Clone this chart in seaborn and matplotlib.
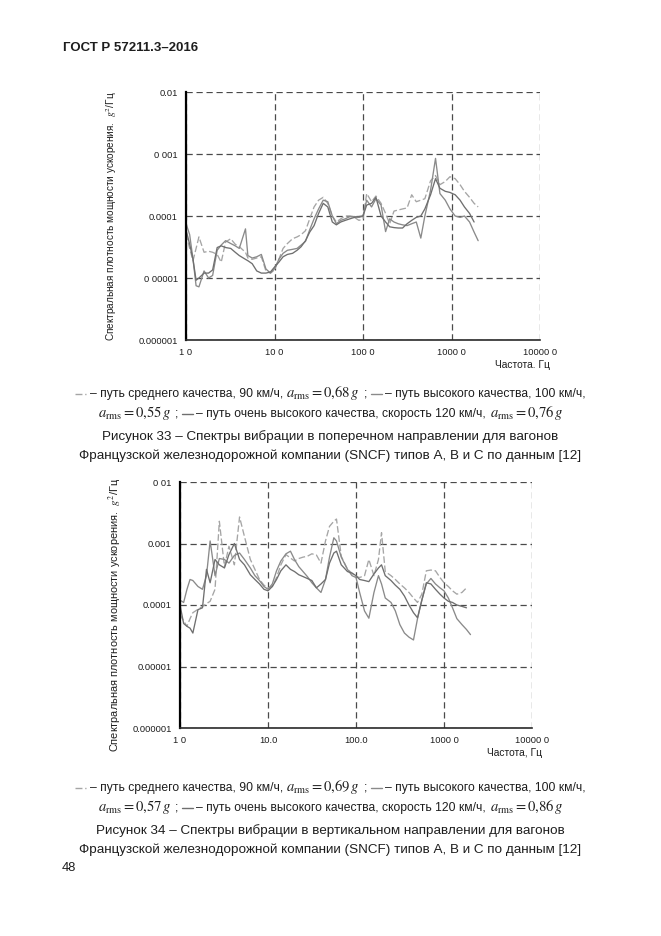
import numpy as np
import pandas as pd
import matplotlib.pyplot as plt
import seaborn as sns
from matplotlib.lines import Line2D
from matplotlib.ticker import NullFormatter

sns.set_style('white')
plt.rcParams['font.family'] = ['Liberation Sans', 'DejaVu Sans']
plt.rcParams['mathtext.fontset'] = 'stix'

INK = '#1e1e1e'
UNIT = 1e-5   # all PSD values below are in units of 1e-5 g^2/Hz

# ── Figure 33: lateral direction ───────────────────────────
freq_lat = [1.0, 1.1, 1.2, 1.3, 1.4, 1.6, 1.8, 2.0, 2.25, 2.5,
            2.8, 3.2, 3.6, 4.0, 4.7, 5.0, 5.6, 6.3, 7.1, 8.0,
            9.0, 10, 11.2, 12.5, 14, 16, 18, 20, 22.4, 25,
            28, 31.5, 35.5, 40, 45, 50, 56, 63, 71, 80,
            90, 100, 110, 125, 140, 160, 180, 200, 224, 250,
            280, 315, 355, 400, 450, 500, 580, 660, 740, 850,
            960, 1100, 1250, 1400, 1600, 1800, 2000]
lat_medium = [5.2, 3.0, 1.9, 3.0, 4.6, 2.6, 2.7, 2.6, 2.4, 1.8,
              3.8, 4.3, 3.5, 3.2, 2.6, 2.1, 2.0, 2.1, 2.2, 1.3,
              1.2, 1.35, 2.0, 3.0, 3.6, 4.3, 4.6, 5.0, 5.8, 9,
              14, 18, 20, 16, 10, 8, 9, 10, 10, 9.5,
              8.5, 9, 23, 17, 21, 16, 11, 7.5, 12, 12.5,
              13, 13.5, 22, 17, 18, 19, 37, 45, 32, 36,
              43, 40, 32, 25, 20, 16, 14]
lat_high = [7.6, 5.0, 2.0, 0.75, 0.72, 1.3, 1.0, 1.1, 2.8, 3.4,
            4.0, 3.6, 3.3, 3.0, 6.2, 2.3, 2.1, 2.2, 2.4, 1.4,
            1.2, 1.4, 2.0, 2.5, 2.8, 2.9, 3.0, 3.4, 3.9, 6.0,
            9.0, 13, 18, 17, 10, 7.5, 8.5, 9.0, 9.8, 9.8,
            9.5, 10, 18, 14, 19, 15, 5.6, 9, 8, 7.5,
            7.2, 7.0, 7.5, 8, 4.4, 10, 26, 85, 23, 18,
            13, 10, 9.5, 10, 8, 5.5, 4.0]
lat_vhigh = [6.0, 3.5, 2.0, 0.92, 1.0, 1.2, 1.2, 1.35, 3.1, 3.3,
             3.1, 3.0, 2.6, 2.3, 2.0, 1.9, 1.7, 1.3, 1.2, 1.2,
             1.25, 1.5, 1.8, 2.2, 2.4, 2.5, 2.8, 3.2, 4.0, 5.5,
             7.0, 11, 16, 14, 8, 7.2, 8, 8.5, 9, 9.5,
             9.8, 10, 15, 16, 20, 10, 8, 6.7, 6.5, 6.4,
             6.4, 7.5, 8.5, 9.5, 10, 13, 22, 40, 28, 25,
             24, 22, 18, 14, 11, 8.0, np.nan]

# ── Figure 34: vertical direction ──────────────────────────
freq_vert = [1.0, 1.1, 1.2, 1.3, 1.4, 1.6, 1.8, 2.0, 2.2, 2.5,
             2.8, 3.2, 3.6, 4.15, 4.75, 5.4, 6.3, 7.1, 8.0, 9.0,
             10, 11.2, 12.5, 14, 16, 18, 20, 22.4, 25, 28,
             31.5, 35.5, 40, 45, 50, 56, 60, 68, 80, 90,
             100, 110, 125, 140, 160, 180, 195, 215, 250, 280,
             315, 355, 400, 450, 500, 560, 630, 710, 800, 900,
             1000, 1120, 1250, 1400, 1600, 1800, 2000]
vert_medium = [7.0, 5.5, 4.5, 6.0, 7.5, 8.5, 9.5, 10.5, 11.5, 18,
               230, 42, 90, 45, 270, 130, 55, 38, 26, 21,
               19, 20, 28, 45, 66, 58, 52, 57, 60, 62,
               68, 65, 48, 110, 190, 230, 250, 62, 38, 33,
               29, 28, 30, 55, 30, 55, 150, 35, 30, 26,
               22, 19, 16, 13, 11, 15, 36, 37, 36, 28,
               23, 20, 17, 15, 16, 19, np.nan]
vert_high = [12, 11, 18, 26, 25, 20, 18, 30, 110, 30,
             57, 55, 48, 64, 70, 55, 40, 30, 25, 20,
             18, 22, 36, 52, 68, 75, 55, 42, 35, 29,
             23, 19, 16, 26, 60, 124, 110, 60, 38, 30,
             28, 16, 8, 6.1, 16, 30, 22, 13, 11, 8,
             4.8, 3.5, 3.0, 2.7, 6, 12, 22, 27, 22, 19,
             17, 13, 9, 6, 4.8, 4.0, 3.3]
vert_vhigh = [10, 5.0, 4.5, 4.2, 3.5, 8.4, 9.0, 38, 23, 55,
              45, 40, 66, 100, 55, 45, 31, 26, 22, 18,
              17, 20, 26, 36, 45, 38, 35, 31, 29, 27,
              25, 19, 22, 26, 48, 70, 75, 45, 35, 33,
              30, 26, 25, 24, 32, 40, 45, 30, 25, 21,
              18, 14, 10, 7.5, 6.2, 12, 23, 22, 18, 15,
              13, 11.5, 11, 10, 9.5, 9.0, np.nan]

# ── Axis ticks (as printed in the scan) ────────────────────
x_ticks = [1, 10, 100, 1000, 10000]
y_ticks = [1e-6, 1e-5, 1e-4, 1e-3, 1e-2]
x_labels_lat = ['1 0', '10 0', '100 0', '1000 0', '10000 0']
y_labels_lat = ['0.000001', '0 00001', '0.0001', '0 001', '0.01']
x_labels_vert = ['1 0', '10.0', '100.0', '1000 0', '10000 0']
y_labels_vert = ['0.000001', '0.00001', '0.0001', '0.001', '0 01']

styles = {
    'medium': dict(color='#a5a5a5', ls=(0, (5, 2))),
    'high':   dict(color='#8a8a8a', ls='-'),
    'vhigh':  dict(color='#6f6f6f', ls='-'),
}

W, H = 661, 936
fig = plt.figure(figsize=(W / 100, H / 100), dpi=100)


def px_axes(left, top, right, bottom):
    return fig.add_axes([left / W, 1 - bottom / H, (right - left) / W, (bottom - top) / H])


def draw_chart(ax, freq, series, xlabels, ylabels, xlab, ylab_pos, ylab_size):
    for key, vals in series:
        st = styles[key]
        sns.lineplot(x=freq, y=np.array(vals) * UNIT, ax=ax, color=st['color'],
                     linestyle=st['ls'], lw=0.95, estimator=None, errorbar=None, sort=False)
    ax.set_xscale('log')
    ax.set_yscale('log')
    ax.set_xlim(1, 10000)
    ax.set_ylim(1e-6, 1e-2)
    ax.set_xticks(x_ticks, xlabels)
    ax.set_yticks(y_ticks, ylabels)
    ax.xaxis.set_minor_formatter(NullFormatter())
    ax.yaxis.set_minor_formatter(NullFormatter())
    ax.grid(True, which='major', color='#4a4a4a', linestyle=(0, (5, 3)), linewidth=0.9)
    ax.tick_params(which='major', length=0, labelsize=6.7, colors=INK, pad=6)
    ax.tick_params(which='minor', direction='in', length=3, width=0.6, color='#333333')
    for s in ['top', 'right']:
        ax.spines[s].set_visible(False)
    ax.spines['left'].set_color('black')
    ax.spines['left'].set_linewidth(1.6)
    ax.spines['bottom'].set_color('#2a2a2a')
    ax.spines['bottom'].set_linewidth(1.2)
    ax.set_xlabel(xlab, fontsize=7.4, color=INK)
    ax.xaxis.set_label_coords(0.95, -0.08)
    ax.set_ylabel('Спектральная плотность мощности ускорения.  $g^2$/Гц', fontsize=ylab_size, color=INK)
    ax.yaxis.set_label_coords(*ylab_pos)


ax1 = px_axes(186, 92, 540, 340)
draw_chart(ax1, freq_lat, [('medium', lat_medium), ('high', lat_high), ('vhigh', lat_vhigh)],
           x_labels_lat, y_labels_lat, 'Частота. Гц', (-0.19, 0.5), 7.2)

ax2 = px_axes(180, 482, 532, 728)
draw_chart(ax2, freq_vert, [('medium', vert_medium), ('high', vert_high), ('vhigh', vert_vhigh)],
           x_labels_vert, y_labels_vert, 'Частота, Гц', (-0.16, 0.46), 7.9)

# ── Captions ───────────────────────────────────────────────
TXT_SIZE = 8.7
MATH_SIZE = 10.5
FIG_SIZE = 9.7


def caption_line(y_px, parts):
    r = fig.canvas.get_renderer()
    items = []
    for kind, val in parts:
        if kind == 'sample':
            items.append((kind, val, 11.0))
        else:
            size = {'txt': TXT_SIZE, 'math': MATH_SIZE, 'fig': FIG_SIZE}[kind]
            t = fig.text(0, 0, val, fontsize=size, color=INK, va='baseline', ha='left')
            items.append((kind, t, t.get_window_extent(r).width))
    gap = 3.5
    total = sum(w for _, _, w in items) + gap * (len(items) - 1)
    x = (W - total) / 2
    for kind, val, w in items:
        if kind == 'sample':
            st = styles[val]
            yl = 1 - (y_px - 3) / H
            fig.add_artist(Line2D([x / W, (x + w) / W], [yl, yl], transform=fig.transFigure,
                                  color=st['color'], lw=1.0, linestyle=st['ls']))
        else:
            val.set_position((x / W, 1 - y_px / H))
        x += w + gap


def caption_block(y0, fig_no, direction, a1, a2, a3):
    caption_line(y0, [('sample', 'medium'),
                      ('txt', '– путь среднего качества, 90 км/ч,'),
                      ('math', '$a_{\\rm rms} = ' + a1 + '\\,g$'),
                      ('txt', ';'),
                      ('sample', 'high'),
                      ('txt', '– путь высокого качества, 100 км/ч,')])
    caption_line(y0 + 20, [('math', '$a_{\\rm rms} = ' + a2 + '\\,g$'),
                           ('txt', ';'),
                           ('sample', 'vhigh'),
                           ('txt', '– путь очень высокого качества, скорость 120 км/ч,'),
                           ('math', '$a_{\\rm rms} = ' + a3 + '\\,g$')])
    caption_line(y0 + 43, [('fig', 'Рисунок ' + fig_no + ' – Спектры вибрации в ' + direction +
                            ' направлении для вагонов')])
    caption_line(y0 + 62, [('fig', 'Французской железнодорожной компании (SNCF) типов А, В и С по данным [12]')])


caption_block(397, '33', 'поперечном', '0{,}68', '0{,}55', '0{,}76')
caption_block(791, '34', 'вертикальном', '0{,}69', '0{,}57', '0{,}86')

fig.text(63 / W, 1 - 48 / H, 'ГОСТ Р 57211.3–2016', fontsize=9.5, fontweight='bold',
         color=INK, va='center', ha='left')
fig.text(62 / W, 1 - 868 / H, '48', fontsize=9.3, color=INK, va='center', ha='left')

fig.savefig('out.png', dpi=100, facecolor='white')
